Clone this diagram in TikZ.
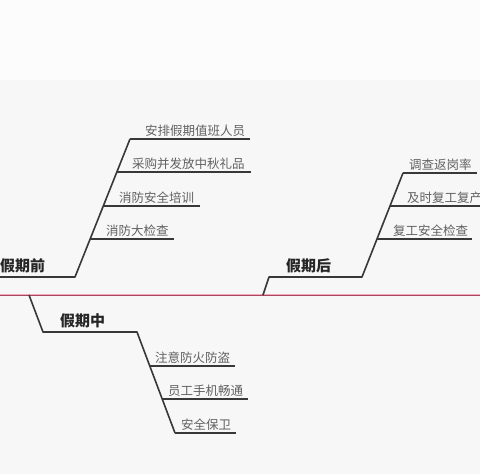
\documentclass[tikz,border=0pt]{standalone}
\usepackage{fontspec}
\newfontfamily\cjk{Noto Sans CJK SC}
\definecolor{axispink}{RGB}{240,170,185}
\definecolor{axisred}{RGB}{170,70,95}
\tikzset{
  branch/.style={line width=1.6pt, draw=black!78, line join=round},
  leaf/.style={font=\cjk\fontsize{12.5}{14}\selectfont, text=black!62, inner sep=0pt, anchor=base west},
  topic/.style={font=\cjk\bfseries\fontsize{15}{17}\selectfont, text=black!85, inner sep=0pt, anchor=base west},
}

\begin{document}
\begin{tikzpicture}[x=1pt, y=-1pt]
  \fill[black!1] (0,0) rectangle (480,80);
  \fill[black!3] (0,80) rectangle (480,474);
  \useasboundingbox (0,0) rectangle (480,474);
  % axis
  \coordinate (ax0) at (0,295);
  \coordinate (ax1) at (480,295);
  \draw[axispink, line width=2.6pt] (ax0) -- (ax1);
  \draw[axisred, line width=0.9pt] (ax0) -- (ax1);

  % before the holiday
  \coordinate (pre0) at (0,277);
  \coordinate (pre1) at (75,277);
  \coordinate (pre2) at (130,139);
  \draw[branch] (pre0) -- (pre1) -- (pre2);
  \node[topic] (preT) at (0,271.5) {假期前};
  \coordinate (preA) at (250,139);
  \draw[branch] (pre2) -- (preA);
  \node[leaf] (preAt) at (145,135) {安排假期值班人员};
  \coordinate (preBs) at (117,172);
  \coordinate (preB) at (251,172);
  \draw[branch] (preBs) -- (preB);
  \node[leaf] (preBt) at (132,168) {采购并发放中秋礼品};
  \coordinate (preCs) at (103,206);
  \coordinate (preC) at (200,206);
  \draw[branch] (preCs) -- (preC);
  \node[leaf] (preCt) at (119,202) {消防安全培训};
  \coordinate (preDs) at (90,239);
  \coordinate (preD) at (174,239);
  \draw[branch] (preDs) -- (preD);
  \node[leaf] (preDt) at (106,235) {消防大检查};

  % during the holiday
  \coordinate (mid0) at (29,295);
  \coordinate (mid1) at (43,332);
  \coordinate (mid2) at (137,332);
  \coordinate (mid3) at (175,433);
  \draw[branch] (mid0) -- (mid1) -- (mid2) -- (mid3);
  \node[topic] (midT) at (60,326.5) {假期中};
  \coordinate (midAs) at (150,366);
  \coordinate (midA) at (235,366);
  \draw[branch] (midAs) -- (midA);
  \node[leaf] (midAt) at (155,362) {注意防火防盗};
  \coordinate (midBs) at (162,399);
  \coordinate (midB) at (248,399);
  \draw[branch] (midBs) -- (midB);
  \node[leaf] (midBt) at (168,395) {员工手机畅通};
  \coordinate (midC) at (236,433);
  \draw[branch] (mid3) -- (midC);
  \node[leaf] (midCt) at (181,429) {安全保卫};

  % after the holiday
  \coordinate (post0) at (263,295);
  \coordinate (post1) at (269,277);
  \coordinate (post2) at (362,277);
  \coordinate (post3) at (403,173);
  \draw[branch] (post0) -- (post1) -- (post2) -- (post3);
  \node[topic] (postT) at (286,271.5) {假期后};
  \coordinate (postA) at (477,173);
  \draw[branch] (post3) -- (postA);
  \node[leaf] (postAt) at (409,169) {调查返岗率};
  \coordinate (postBs) at (390,206);
  \coordinate (postB) at (480,206);
  \draw[branch] (postBs) -- (postB);
  \node[leaf] (postBt) at (407,202) {及时复工复产};
  \coordinate (postCs) at (377,239);
  \coordinate (postC) at (472,239);
  \draw[branch] (postCs) -- (postC);
  \node[leaf] (postCt) at (393,235) {复工安全检查};
\end{tikzpicture}
\end{document}
